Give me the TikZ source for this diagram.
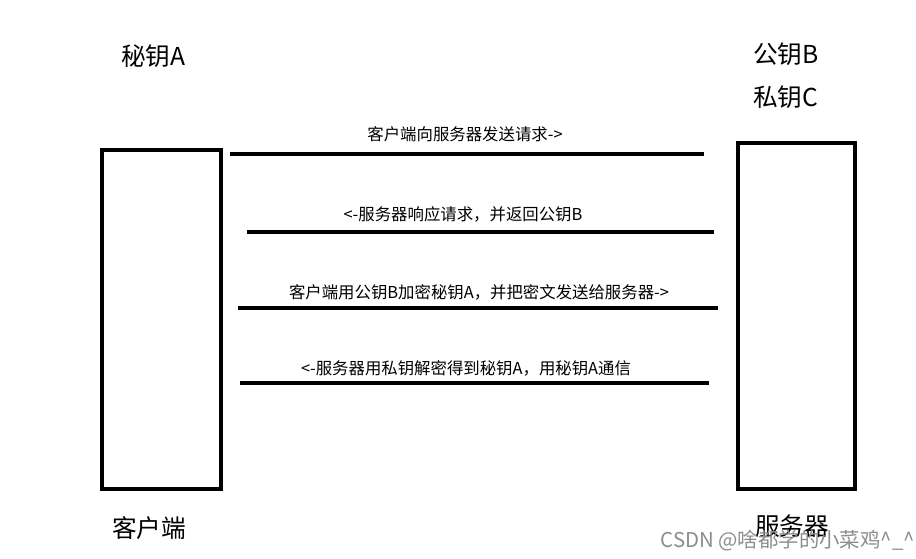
\documentclass[tikz,border=0pt]{standalone}
\usepackage{fontspec}
\newfontfamily\cjk{Noto Sans CJK SC}
\begin{document}
\begin{tikzpicture}[x=0.75pt,y=-0.75pt,
  party/.style={draw=black,line width=2.4pt,minimum width=0pt,inner sep=0pt},
  msgline/.style={line width=2.3pt},
  big/.style={font=\cjk\fontsize{18.5}{21}\selectfont,inner sep=0pt,anchor=west},
  msg/.style={font=\cjk\fontsize{12.3}{14}\selectfont,inner sep=0pt}]
\useasboundingbox[fill=white] (0,0) rectangle (916,559);
% boxes
\draw[party] (102,150) rectangle (221,489);
\draw[party] (738,143) rectangle (855,489);
% message lines
\coordinate (l1a) at (230,154); \coordinate (l1b) at (704,154);
\coordinate (l2a) at (247,232); \coordinate (l2b) at (714,232);
\coordinate (l3a) at (238,308); \coordinate (l3b) at (718,308);
\coordinate (l4a) at (240,383); \coordinate (l4b) at (709,383);
\draw[msgline] (l1a) -- (l1b);
\draw[msgline] (l2a) -- (l2b);
\draw[msgline] (l3a) -- (l3b);
\draw[msgline] (l4a) -- (l4b);
% message labels
\node[msg] (m1) at (465,134) {客户端向服务器发送请求->};
\node[msg] (m2) at (463,214) {<-服务器响应请求，并返回公钥B};
\node[msg] (m3) at (479,292) {客户端用公钥B加密秘钥A，并把密文发送给服务器->};
\node[msg] (m4) at (466,368) {<-服务器用私钥解密得到秘钥A，用秘钥A通信};
% party labels
\node[big] (ka) at (121,56) {秘钥A};
\node[big] (kb) at (753,54) {公钥B};
\node[big] (kc) at (753,97) {私钥C};
\node[big] (cl) at (112,528) {客户端};
\node[big] (sv) at (755,526) {服务器};
% watermark
\node[font=\cjk\fontsize{15.3}{18}\selectfont,text=black!45,inner sep=0pt,anchor=east] (wm) at (915,541) {CSDN @啥都学的小菜鸡\^{}\_\^{}};
\end{tikzpicture}
\end{document}
